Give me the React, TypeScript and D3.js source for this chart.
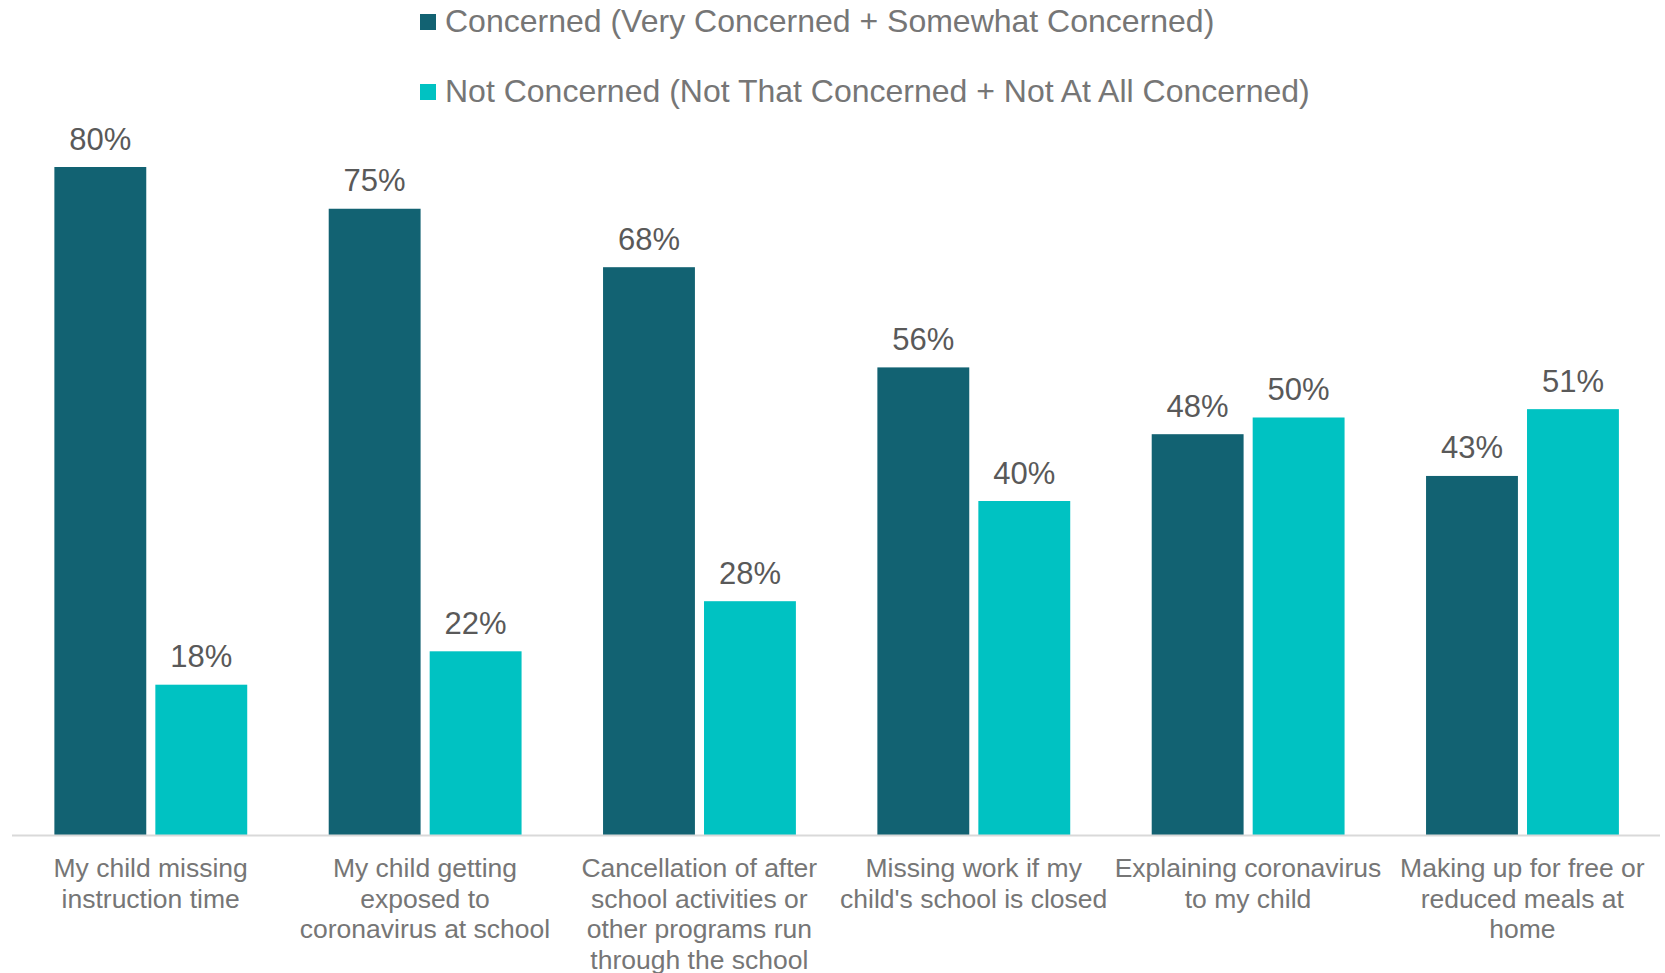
import React, { useEffect } from 'react';
import * as d3 from 'd3';

const categories: string[][] = [
  ['My child missing', 'instruction time'],
  ['My child getting', 'exposed to', 'coronavirus at school'],
  ['Cancellation of after', 'school activities or', 'other programs run', 'through the school'],
  ['Missing work if my', "child's school is closed"],
  ['Explaining coronavirus', 'to my child'],
  ['Making up for free or', 'reduced meals at', 'home'],
];

const seriesNames = [
  'Concerned (Very Concerned + Somewhat Concerned)',
  'Not Concerned (Not That Concerned + Not At All Concerned)',
];

const concerned = [80, 75, 68, 56, 48, 43];
const notConcerned = [18, 22, 28, 40, 50, 51];

const COLORS = ['#126272', '#00C2C2'];

const WIDTH = 1665;
const HEIGHT = 973;
const FONT = "'Liberation Sans', Arial, sans-serif";

export default function App() {
  useEffect(() => {
    document.body.style.margin = '0';
  }, []);

  const baseY = 835;
  const x0 = d3
    .scaleBand<number>()
    .domain(d3.range(categories.length))
    .range([13.5, 1659.5])
    .padding(0);
  const bw = x0.bandwidth();
  const x1 = d3
    .scaleBand<number>()
    .domain([0, 1])
    .range([bw * 0.149, bw * 0.852])
    .paddingInner(0.09)
    .paddingOuter(0);
  const y = d3.scaleLinear().domain([0, 100]).range([baseY, 0]);

  const values = [concerned, notConcerned];

  return (
    <svg width={WIDTH} height={HEIGHT} style={{ display: 'block' }} fontFamily={FONT}>
      <rect width={WIDTH} height={HEIGHT} fill="#fff" />

      {/* legend */}
      {seriesNames.map((name, i) => (
        <g key={name} transform={`translate(420,${14 + i * 70})`}>
          <rect width={16} height={16} fill={COLORS[i]} />
          <text x={25} y={17.7} fontSize={32} fill="#767676">
            {name}
          </text>
        </g>
      ))}

      {/* bars */}
      {categories.map((_, ci) => (
        <g key={ci} transform={`translate(${x0(ci)},0)`}>
          {values.map((vals, si) => {
            const v = vals[ci];
            const bx = x1(si)!;
            return (
              <g key={si}>
                <rect
                  x={bx}
                  y={y(v)}
                  width={x1.bandwidth()}
                  height={baseY - y(v)}
                  fill={COLORS[si]}
                />
                <text
                  x={bx + x1.bandwidth() / 2}
                  y={y(v) - 17.5}
                  textAnchor="middle"
                  fontSize={31}
                  fill="#595959"
                >
                  {`${v}%`}
                </text>
              </g>
            );
          })}
        </g>
      ))}

      {/* axis line */}
      <line x1={12} x2={1660} y1={baseY + 0.5} y2={baseY + 0.5} stroke="#d9d9d9" strokeWidth={2} />

      {/* category labels */}
      {categories.map((lines, ci) => (
        <text
          key={ci}
          x={x0(ci)! + bw / 2}
          y={877}
          textAnchor="middle"
          fontSize={26.5}
          fill="#767676"
        >
          {lines.map((l, li) => (
            <tspan key={li} x={x0(ci)! + bw / 2} dy={li === 0 ? 0 : 30.5}>
              {l}
            </tspan>
          ))}
        </text>
      ))}
    </svg>
  );
}
